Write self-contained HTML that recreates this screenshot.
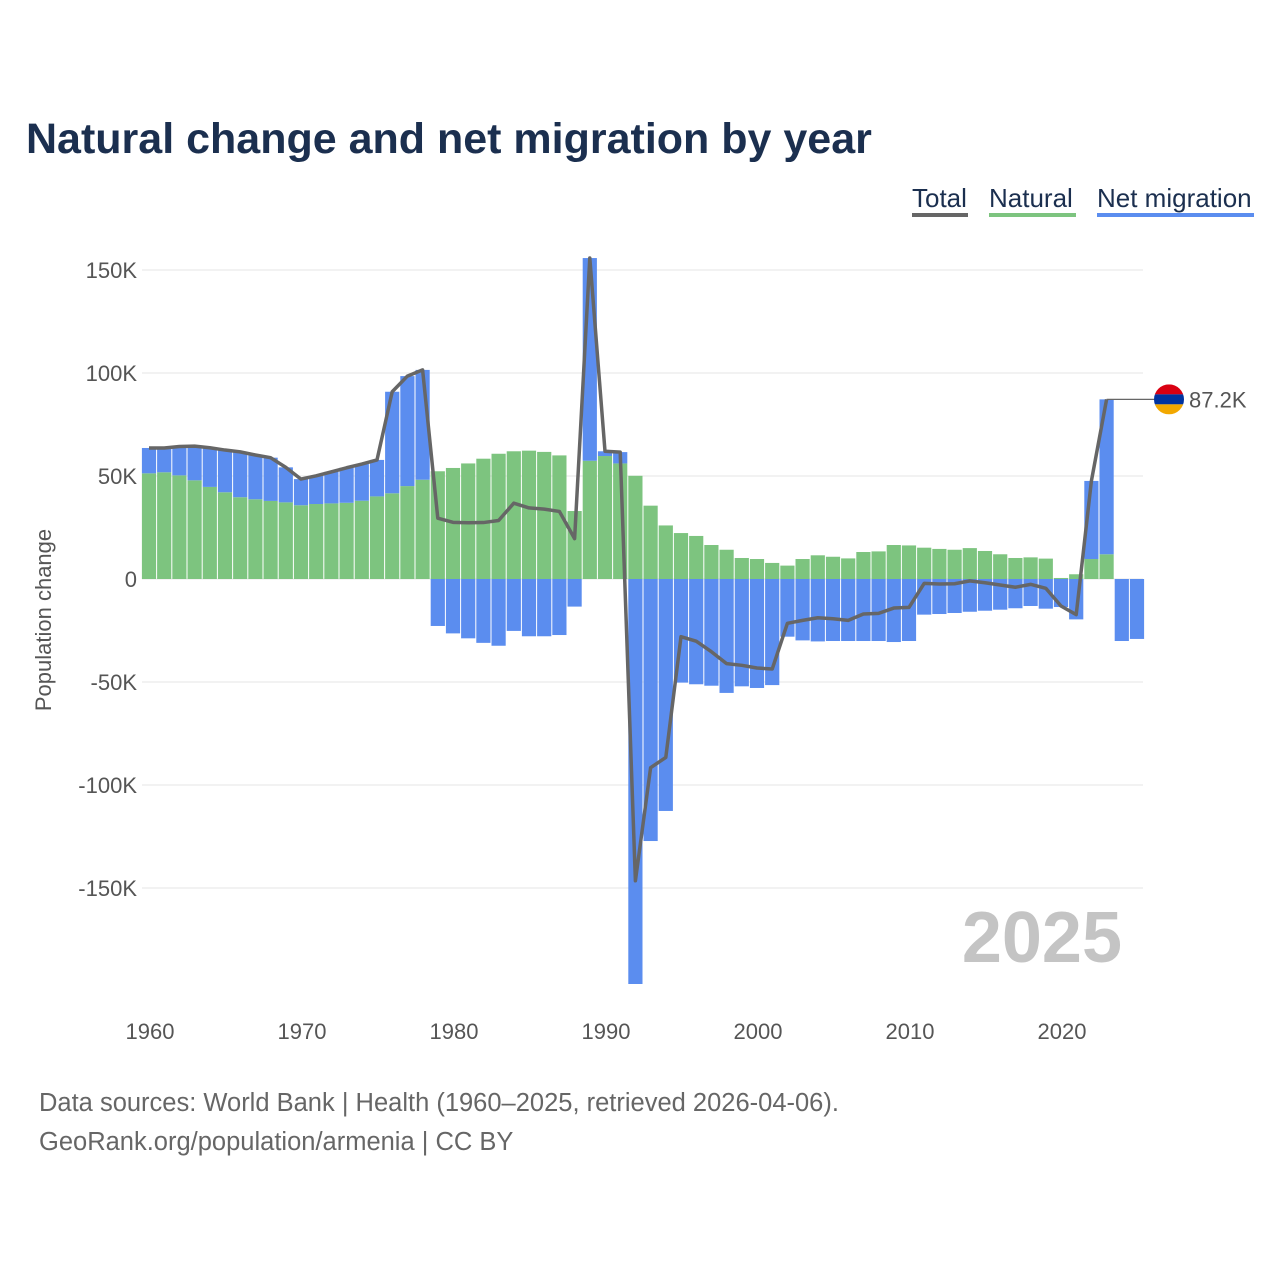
<!DOCTYPE html>
<html><head><meta charset="utf-8">
<style>
html,body{margin:0;padding:0;background:#fff;width:1280px;height:1280px;overflow:hidden;font-family:"Liberation Sans",sans-serif;}
</style></head>
<body>
<svg width="1280" height="1280" viewBox="0 0 1280 1280" xmlns="http://www.w3.org/2000/svg">
<text x="26" y="153" font-size="43" font-weight="bold" fill="#1b2f4f">Natural change and net migration by year</text>
<g font-size="26" fill="#1b2f4f">
 <g><text x="912" y="207">Total</text><rect x="912" y="213" width="56" height="4" fill="#666"/></g>
 <g><text x="989" y="207">Natural</text><rect x="989" y="213" width="87" height="4" fill="#7dc47f"/></g>
 <g><text x="1097" y="207">Net migration</text><rect x="1097" y="213" width="157" height="4" fill="#5b8def"/></g>
</g>
<g id="grid"></g>
<g id="bars"></g>
<g id="line"></g>
<g id="axes"></g>
<text x="1122" y="962" font-size="72" font-weight="bold" fill="#c4c4c4" text-anchor="end">2025</text>
<text transform="translate(51,620) rotate(-90)" font-size="22" fill="#555" text-anchor="middle">Population change</text>
<text x="39" y="1111" font-size="25.5" fill="#666">Data sources: World Bank | Health (1960–2025, retrieved 2026-04-06).</text>
<text x="39" y="1150" font-size="25.5" fill="#666">GeoRank.org/population/armenia | CC BY</text>
</svg>
<script>
const years=[];for(let y=1960;y<=2025;y++)years.push(y);
const natural=[51.3,51.8,50.3,47.9,44.7,42.1,39.7,38.7,37.9,37.2,35.8,36.4,36.7,37,38,40.1,41.6,45.1,48.2,52.3,53.9,56.1,58.4,60.8,62,62.3,61.7,60,33,57.4,59.7,56.1,50.1,35.6,26,22.3,20.9,16.5,14.2,10.2,9.7,7.8,6.5,9.7,11.5,10.8,10,13.1,13.4,16.5,16.3,15.2,14.6,14.2,15,13.6,12,10.2,10.5,9.9,0.5,2.3,9.7,12,0,0];
const migration=[12.3,11.8,14,16.6,19,20.5,22,21.5,21,17,12.7,13.7,15.3,17,17.8,17.7,49.3,53.4,53.3,-22.8,-26.4,-28.8,-31,-32.4,-25.2,-27.8,-27.8,-27.2,-13.4,98.4,2.3,5.5,-196.6,-127.2,-112.6,-50.3,-51.1,-51.8,-55.3,-52.1,-52.9,-51.5,-28,-29.8,-30.3,-30.1,-30.1,-30.1,-30.1,-30.6,-30.1,-17.3,-17,-16.5,-15.9,-15.4,-14.9,-14.2,-13.1,-14.4,-13.6,-19.6,37.9,75.2,-30.1,-29.1];
const yTicks=[150,100,50,0,-50,-100,-150];
const yTickLabels=["150K","100K","50K","0","-50K","-100K","-150K"];
const xTicks=[1960,1970,1980,1990,2000,2010,2020];
const lastLineYear=2023;
const NS="http://www.w3.org/2000/svg";
const X=y=>149+(y-1960)*15.2;
const Y=v=>579-v*2.06;
function mk(tag,attrs,parent){const e=document.createElementNS(NS,tag);for(const k in attrs)e.setAttribute(k,attrs[k]);parent.appendChild(e);return e;}
const grid=document.getElementById('grid'),bars=document.getElementById('bars'),line=document.getElementById('line'),axes=document.getElementById('axes');
yTicks.forEach((t,i)=>{
 const l=mk('line',{x1:142,x2:1143,y1:Y(t),y2:Y(t),stroke:'#e6e6e6','stroke-width':1},grid);
 
 
 const tx=mk('text',{x:137,y:Y(t)+8,'font-size':22,fill:'#555','text-anchor':'end'},axes);
 tx.textContent=yTickLabels[i];
 
 
});
xTicks.forEach(t=>{
 const tx=mk('text',{x:X(t)+1,y:1039,'font-size':22,fill:'#555','text-anchor':'middle'},axes);
 tx.textContent=t;
 
 
});
const w=14.2;
years.forEach((yr,i)=>{
 const n=natural[i],m=migration[i];
 const cx=X(yr);
 if(n>0){const r=mk('rect',{x:cx-w/2,y:Y(n),width:w,height:Y(0)-Y(n),fill:'#7dc47f'},bars);
  
  }
 let base=m>=0?Math.max(n,0):0;
 const y1=Y(base),y2=Y(base+m);
 const r2=mk('rect',{x:cx-w/2,y:Math.min(y1,y2),width:w,height:Math.abs(y2-y1),fill:'#5b8def'},bars);
 
 
});
const pts=[];
years.forEach((yr,i)=>{if(yr<=lastLineYear)pts.push(X(yr)+','+Y(natural[i]+migration[i]));});
const pl=mk('polyline',{points:pts.join(' '),fill:'none',stroke:'#666','stroke-width':3.5,'stroke-linejoin':'round'},line);


const li=years.indexOf(lastLineYear);
const lv=natural[li]+migration[li];
const ly=Y(lv);
const ld=mk('line',{x1:X(lastLineYear),x2:1160,y1:ly,y2:ly,stroke:'#666','stroke-width':1.2},line);


const fg=mk('g',{},line);


const cp=mk('clipPath',{id:'fc'},fg);mk('circle',{cx:1169,cy:ly,r:15},cp);
mk('rect',{x:1154,y:ly-15,width:30,height:10,fill:'#d90012','clip-path':'url(#fc)'},fg);
mk('rect',{x:1154,y:ly-5,width:30,height:10,fill:'#0033a0','clip-path':'url(#fc)'},fg);
mk('rect',{x:1154,y:ly+5,width:30,height:10,fill:'#f2a800','clip-path':'url(#fc)'},fg);
const lt=mk('text',{x:1189,y:ly+8,'font-size':22,fill:'#555'},line);
lt.textContent=lv.toFixed(1)+'K';


</script>
</body></html>
